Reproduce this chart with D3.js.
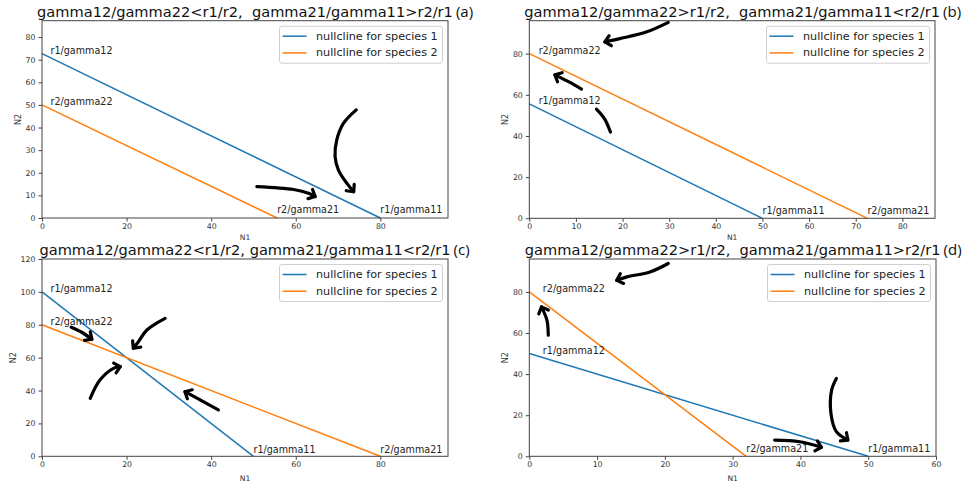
<!DOCTYPE html>
<html>
<head>
<meta charset="utf-8">
<script src="https://cdn.jsdelivr.net/npm/d3@7"></script>
<style>
  html, body { margin: 0; padding: 0; background: #fff; }
  svg { display: block; }
</style>
</head>
<body>
<svg id="chart" width="965" height="485"></svg>
<script>
// ---------------- DATA ----------------
const panelIds = ["a", "b", "c", "d"];
const titles = [
  "gamma12/gamma22<r1/r2,  gamma21/gamma11>r2/r1",
  "gamma12/gamma22>r1/r2,  gamma21/gamma11<r2/r1",
  "gamma12/gamma22<r1/r2, gamma21/gamma11<r2/r1",
  "gamma12/gamma22>r1/r2,  gamma21/gamma11>r2/r1"
];
const seriesNames = ["nullcline for species 1", "nullcline for species 2"];
// intercepts of the nullclines (N1 axis, N2 axis)
const species1N1Int = [80, 50, 50, 50];
const species1N2Int = [72.7, 55.6, 100, 50];
const species2N1Int = [55.6, 72.5, 80, 32];
const species2N2Int = [50, 80, 80, 80];
const species1Labels = ["r1/gamma11", "r1/gamma12"];
const species2Labels = ["r2/gamma21", "r2/gamma22"];
const xTickValues = [
  [0, 20, 40, 60, 80],
  [0, 10, 20, 30, 40, 50, 60, 70, 80],
  [0, 20, 40, 60, 80],
  [0, 10, 20, 30, 40, 50, 60]
];
const yTickValues = [
  [0, 10, 20, 30, 40, 50, 60, 70, 80],
  [0, 20, 40, 60, 80],
  [0, 20, 40, 60, 80, 100, 120],
  [0, 20, 40, 60, 80]
];
// hand-drawn arrows, in data units [N1, N2]
const arrowsA = [
  { pts: [[74.3, 47.8], [71.3, 41.9], [69.7, 34.5], [69.3, 27.1], [70.1, 21.2], [72.1, 15.3], [73.7, 11.6]], head: true },
  { pts: [[50.8, 13.9], [59.5, 12.6], [63.2, 10.8], [64.6, 9.5]], head: true }
];
const arrowsB = [
  { pts: [[29.8, 95.2], [25.2, 90.6], [19.4, 87.3], [16.2, 85.7]], head: true },
  { pts: [[11.2, 62.8], [8.4, 66.4], [5.5, 69.7]], head: true },
  { pts: [[14.4, 53.0], [16.2, 48.1], [17.4, 41.9]], head: false }
];
const arrowsC = [
  { pts: [[6.9, 78.5], [9.5, 75.3], [11.8, 71.2]], head: true },
  { pts: [[29.1, 83.9], [24.8, 76.8], [22.8, 69.7], [21.6, 65.7]], head: true },
  { pts: [[11.4, 35.3], [13.7, 46.4], [16.9, 53.5], [18.5, 54.5]], head: true },
  { pts: [[41.7, 28.2], [37.4, 34.3], [33.8, 39.3]], head: true }
];
const arrowsD = [
  { pts: [[20.5, 93.8], [17.8, 89.7], [14.4, 87.3], [12.9, 85.6]], head: true },
  { pts: [[2.8, 58.9], [2.6, 66.2], [1.8, 72.7]], head: true },
  { pts: [[45.3, 37.9], [44.6, 32.2], [44.5, 20.9], [45.3, 12.0], [47.0, 7.9]], head: true },
  { pts: [[36.2, 7.9], [39.9, 7.1], [43.1, 4.4]], head: true }
];
const arrowsByPanel = [arrowsA, arrowsB, arrowsC, arrowsD];

// ---------------- LAYOUT ----------------
const layout = [
  { x: 42,    y: 20.7, w: 406,   h: 197.3, titleY: 16.7, xlabY: 239.6, ylabX: 18 },
  { x: 529.3, y: 20.7, w: 405.7, h: 197.6, titleY: 16.7, xlabY: 239.6, ylabX: 505 },
  { x: 42,    y: 259,  w: 406,   h: 197.3, titleY: 255,  xlabY: 481, ylabX: 13 },
  { x: 529.3, y: 259,  w: 406.7, h: 197.3, titleY: 255,  xlabY: 481, ylabX: 505 }
];
const colors = ["#1f77b4", "#ff7f0e"];
const FONT = "DejaVu Sans, sans-serif";

const svg = d3.select("#chart");
svg.append("rect").attr("width", 965).attr("height", 485).attr("fill", "#fff");

function drawPanel(i) {
  const L = layout[i];
  const xMax = 1.2 * Math.max(species1N1Int[i], species2N1Int[i]);
  const yMax = 1.2 * Math.max(species1N2Int[i], species2N2Int[i]);
  const x = d3.scaleLinear().domain([0, xMax]).range([L.x, L.x + L.w]);
  const y = d3.scaleLinear().domain([0, yMax]).range([L.y + L.h, L.y]);
  const g = svg.append("g");

  // nullclines
  const lines = [
    [[0, species1N2Int[i]], [species1N1Int[i], 0]],
    [[0, species2N2Int[i]], [species2N1Int[i], 0]]
  ];
  const lineGen = d3.line().x(d => x(d[0])).y(d => y(d[1]));
  lines.forEach((pts, k) => {
    g.append("path").attr("d", lineGen(pts)).attr("fill", "none")
      .attr("stroke", colors[k]).attr("stroke-width", 1.5);
  });

  // annotations
  const ann = [
    { t: species1Labels[1], p: [2, species1N2Int[i]] },
    { t: species2Labels[1], p: [2, species2N2Int[i]] },
    { t: species1Labels[0], p: [species1N1Int[i], 2] },
    { t: species2Labels[0], p: [species2N1Int[i], 2] }
  ];
  ann.forEach(a => {
    g.append("text").attr("x", x(a.p[0])).attr("y", y(a.p[1]))
      .attr("font-family", FONT).attr("font-size", 9.6).attr("fill", "#222")
      .text(a.t);
  });

  // hand-drawn arrows
  const curve = d3.line().x(d => x(d[0])).y(d => y(d[1])).curve(d3.curveCatmullRom.alpha(0.5));
  arrowsByPanel[i].forEach(a => {
    g.append("path").attr("d", curve(a.pts)).attr("fill", "none")
      .attr("stroke", "#000").attr("stroke-width", 3.2)
      .attr("stroke-linecap", "round").attr("stroke-linejoin", "round");
    if (a.head) {
      const n = a.pts.length;
      const p1 = [x(a.pts[n - 2][0]), y(a.pts[n - 2][1])];
      const p2 = [x(a.pts[n - 1][0]), y(a.pts[n - 1][1])];
      const ang = Math.atan2(p2[1] - p1[1], p2[0] - p1[0]);
      const len = 7.5, spread = 0.75;
      const arm = s => [p2[0] - len * Math.cos(ang + s), p2[1] - len * Math.sin(ang + s)];
      const hp = [arm(spread), p2, arm(-spread)];
      g.append("path").attr("d", d3.line()(hp)).attr("fill", "none")
        .attr("stroke", "#000").attr("stroke-width", 3.2)
        .attr("stroke-linecap", "round").attr("stroke-linejoin", "round");
    }
  });

  // axes
  const xAxis = d3.axisBottom(x).tickValues(xTickValues[i]).tickSize(3.5).tickPadding(2).tickFormat(d3.format("d"));
  const yAxis = d3.axisLeft(y).tickValues(yTickValues[i]).tickSize(3.5).tickPadding(3).tickFormat(d3.format("d"));
  const gx = g.append("g").attr("transform", `translate(0,${L.y + L.h})`).call(xAxis);
  const gy = g.append("g").attr("transform", `translate(${L.x},0)`).call(yAxis);
  [gx, gy].forEach(ax => {
    ax.select(".domain").remove();
    ax.selectAll("line").attr("stroke", "#444");
    ax.selectAll("text").attr("font-family", FONT).attr("font-size", 7.8).attr("fill", "#333");
  });

  // frame
  g.append("rect").attr("x", L.x).attr("y", L.y).attr("width", L.w).attr("height", L.h)
    .attr("fill", "none").attr("stroke", "#444").attr("stroke-width", 1);

  // axis labels
  g.append("text").attr("x", L.x + L.w / 2).attr("y", L.xlabY).attr("text-anchor", "middle")
    .attr("font-family", FONT).attr("font-size", 7.6).attr("fill", "#333").text("N1");
  g.append("text").attr("transform", `translate(${L.ylabX},${L.y + L.h / 2}) rotate(-90)`)
    .attr("text-anchor", "middle").attr("dominant-baseline", "middle")
    .attr("font-family", FONT).attr("font-size", 8).attr("fill", "#333").text("N2");

  // legend
  const lx = L.x + L.w - 168.5, ly = L.y + 5.5;
  const lg = g.append("g");
  lg.append("rect").attr("x", lx).attr("y", ly).attr("width", 163).attr("height", 37)
    .attr("rx", 2.5).attr("fill", "#fff").attr("fill-opacity", 0.8)
    .attr("stroke", "#d0d0d0").attr("stroke-width", 1);
  seriesNames.forEach((s, k) => {
    const cy = ly + 10 + k * 16.7;
    lg.append("line").attr("x1", lx + 3).attr("x2", lx + 27).attr("y1", cy).attr("y2", cy)
      .attr("stroke", colors[k]).attr("stroke-width", 1.5);
    lg.append("text").attr("x", lx + 36.5).attr("y", cy).attr("dominant-baseline", "central")
      .attr("font-family", FONT).attr("font-size", 11.2).attr("fill", "#222").text(s);
  });

  // title + panel letter
  const tt = g.append("text").attr("x", L.x + L.w / 2).attr("y", L.titleY).attr("text-anchor", "middle")
    .attr("font-family", FONT).attr("font-size", 14.6).attr("fill", "#111")
    .attr("xml:space", "preserve").style("white-space", "pre").text(titles[i]);
  const tl = tt.node().getComputedTextLength();
  g.append("text").attr("x", L.x + L.w / 2 + tl / 2 + 3).attr("y", L.titleY)
    .attr("font-family", "Open Sans, sans-serif").attr("font-size", 15).attr("fill", "#111")
    .text("(" + panelIds[i] + ")");
}

panelIds.forEach((_, i) => drawPanel(i));
</script>
</body>
</html>
